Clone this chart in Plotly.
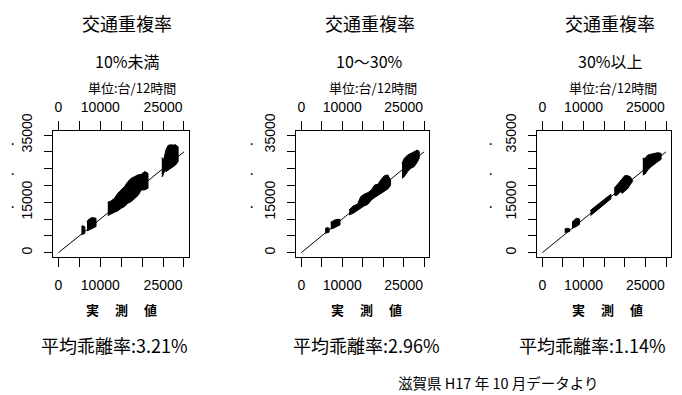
import plotly.graph_objects as go

W, H = 682, 395

# ---- data -------------------------------------------------------------
group_names = ["10%未満", "10～30%", "30%以上"]
mean_dev = ["3.21%", "2.96%", "1.14%"]

x_tickvals = [0, 5000, 10000, 15000, 20000, 25000, 30000]
x_ticktext = ["0", "", "10000", "", "", "25000", ""]
y_tickvals = [0, 5000, 10000, 15000, 20000, 25000, 30000, 35000]
y_ticktext = ["0", "", "", "15000", "", "", "", "35000"]

diag_x = [0, 30000]
diag_y = [0, 30000]

# point clouds: observed volume and the low / high estimates at that volume
low_c1_x = [5500, 5750, 6000, 6300]
low_c1_lo = [5300, 5400, 5500, 5700]
low_c1_hi = [7800, 8000, 7900, 7700]
low_c2_x = [6820, 7380, 7940, 8420, 8980]
low_c2_lo = [6460, 6860, 7160, 7450, 7750]
low_c2_hi = [9240, 10030, 10430, 10330, 10230]
low_c3_x = [11790, 12590, 13390, 14190, 14990, 15800, 16600, 17400, 18200, 19000, 19800, 20600, 21400]
low_c3_lo = [11020, 11420, 12010, 12410, 13200, 13700, 14690, 15190, 16180, 16980, 18660, 18660, 19150]
low_c3_hi = [14990, 15390, 16180, 17670, 18660, 19650, 21140, 22130, 22630, 23120, 23320, 24120, 23620]
low_c4_x = [24700, 24900, 25100, 25400, 25700, 26200, 26800, 27400, 28000, 28600]
low_c4_lo = [22600, 22700, 23000, 24500, 24100, 24600, 25100, 25600, 26100, 27100]
low_c4_hi = [28300, 28000, 27500, 29000, 30600, 31900, 32100, 32000, 32100, 31500]

mid_c1_x = [5820, 6300, 6780]
mid_c1_lo = [5770, 5900, 6100]
mid_c1_hi = [7200, 7440, 7300]
mid_c2_x = [7190, 7700, 8240, 8800, 9450]
mid_c2_lo = [7050, 7200, 7440, 7800, 8240]
mid_c2_hi = [9040, 9500, 9740, 9900, 9930]
mid_c3_x = [11700, 12670, 13720, 14530, 15330, 16300, 17110, 17920, 18720, 19530, 20340, 21150, 21790]
mid_c3_lo = [11210, 11710, 12400, 13200, 13890, 14390, 15680, 16380, 16970, 17670, 18360, 18960, 19950]
mid_c3_hi = [12700, 13890, 14390, 16670, 17370, 17860, 18650, 20140, 20340, 21830, 22920, 23120, 21630]
mid_c4_x = [24610, 25180, 25990, 26790, 27600, 28410, 28810]
mid_c4_lo = [22130, 22630, 24120, 25110, 25610, 27100, 28080]
mid_c4_hi = [26590, 28080, 29070, 29560, 30260, 30560, 30060]

high_c1_x = [5420, 6000, 6620]
high_c1_lo = [6070, 6100, 6300]
high_c1_hi = [7000, 7260, 7100]
high_c2_x = [7190, 8230, 9030]
high_c2_lo = [7260, 7750, 8440]
high_c2_hi = [9040, 10230, 10030]
high_c3_x = [11670, 13030, 14230, 15430, 16630]
high_c3_lo = [11000, 12400, 13500, 14800, 16000]
high_c3_hi = [12600, 13900, 15100, 16300, 17400]
high_c4_x = [17430, 17910, 18390, 18870, 19430, 19990, 20630, 21270, 21830]
high_c4_lo = [17170, 16970, 17370, 18160, 17670, 18360, 18960, 20150, 21140]
high_c4_hi = [19150, 19850, 20640, 21340, 22330, 22920, 22920, 22630, 21630]
high_c5_x = [24360, 24920, 25570, 26380, 27190, 27990, 28800]
high_c5_lo = [23100, 23400, 24590, 25580, 26370, 27070, 27760]
high_c5_hi = [28070, 28070, 29060, 29350, 29550, 29750, 29550]

clouds = [
    [(low_c1_x, low_c1_lo, low_c1_hi), (low_c2_x, low_c2_lo, low_c2_hi),
     (low_c3_x, low_c3_lo, low_c3_hi), (low_c4_x, low_c4_lo, low_c4_hi)],
    [(mid_c1_x, mid_c1_lo, mid_c1_hi), (mid_c2_x, mid_c2_lo, mid_c2_hi),
     (mid_c3_x, mid_c3_lo, mid_c3_hi), (mid_c4_x, mid_c4_lo, mid_c4_hi)],
    [(high_c1_x, high_c1_lo, high_c1_hi), (high_c2_x, high_c2_lo, high_c2_hi),
     (high_c3_x, high_c3_lo, high_c3_hi), (high_c4_x, high_c4_lo, high_c4_hi),
     (high_c5_x, high_c5_lo, high_c5_hi)],
]

# ---- layout geometry (pixels) -----------------------------------------
boxes = [(53, 189), (296, 429), (537, 671)]   # left / right of each plot box
box_top, box_bottom = 131, 257
title_dx = [6, 7, 6]
unit_dx = [11, 11, 9]
xlab_cx = [121, 366, 607]
dev_cx = [114, 366, 592]
dots_x = [12, 251, 490]
dots_y = [144, 173, 206]

JP = "Noto Sans CJK JP"
NUM = "Liberation Sans"


def px(x):
    return x / W


def py(y):
    return 1 - y / H


fig = go.Figure()
annotations = []
layout = {}


def note(text, x, y, size, family=JP):
    annotations.append(dict(
        text=text, x=px(x), y=py(y), xref="paper", yref="paper",
        xanchor="center", yanchor="middle", showarrow=False,
        font=dict(family=family, size=size, color="black")))


for i in range(3):
    n = i + 1
    xa, ya = f"x{n}", f"y{n}"
    xtop = f"x{n + 3}"
    l, r = boxes[i]
    cx = (l + r) / 2

    for cx_, lo, hi in clouds[i]:
        fig.add_trace(go.Scatter(
            x=list(cx_) + list(cx_)[::-1],
            y=list(hi) + list(lo)[::-1],
            mode="lines", fill="toself", fillcolor="black",
            line=dict(color="black", width=1),
            xaxis=xa, yaxis=ya, showlegend=False, hoverinfo="skip"))

    fig.add_trace(go.Scatter(
        x=diag_x, y=diag_y, mode="lines",
        line=dict(color="black", width=1),
        xaxis=xa, yaxis=ya, showlegend=False, hoverinfo="skip"))
    # empty trace that carries the top axis
    fig.add_trace(go.Scatter(
        x=[None], y=[None], xaxis=xtop, yaxis=ya,
        showlegend=False, hoverinfo="skip"))

    dom_x = [px(l), px(r)]
    dom_y = [py(box_bottom), py(box_top)]
    common_x = dict(
        domain=dom_x, range=[-1300, 31200], automargin=False,
        tickmode="array", tickvals=x_tickvals, ticktext=x_ticktext,
        ticks="outside", ticklen=9, tickwidth=1, tickcolor="black",
        tickfont=dict(family=NUM, size=14, color="black"),
        showgrid=False, zeroline=False, fixedrange=True)
    layout[f"xaxis{n}"] = dict(
        common_x, anchor=ya, side="bottom",
        showline=True, mirror=True, linecolor="black", linewidth=1,
        ticklabelstandoff=6)
    layout[f"xaxis{n + 3}"] = dict(
        common_x, anchor=ya, side="top", overlaying=xa,
        showline=False, ticklabelstandoff=3)
    layout[f"yaxis{n}"] = dict(
        domain=dom_y, range=[-1300, 36200], anchor=xa, automargin=False,
        tickmode="array", tickvals=y_tickvals, ticktext=y_ticktext,
        tickangle=-90,
        ticks="outside", ticklen=8, tickwidth=1, tickcolor="black",
        tickfont=dict(family=NUM, size=14, color="black"),
        showline=True, mirror=True, linecolor="black", linewidth=1,
        showgrid=False, zeroline=False, fixedrange=True,
        ticklabelstandoff=6)

    note("交通重複率", cx + title_dx[i], 23, 18)
    note(group_names[i], cx + title_dx[i], 61, 16)
    note("単位:台/12時間", cx + unit_dx[i], 87, 13)
    note("<b>実　 測　 値</b>", xlab_cx[i], 309, 13)
    note("平均乖離率:" + mean_dev[i], dev_cx[i], 345, 18)
    for dy in dots_y:
        note("·", dots_x[i], dy, 16, family=NUM)

note("滋賀県 H17 年 10 月データより", 498, 382, 14.5)

fig.update_layout(
    width=W, height=H, margin=dict(l=0, r=0, t=0, b=0, autoexpand=False),
    paper_bgcolor="white", plot_bgcolor="white",
    annotations=annotations, showlegend=False, **layout)

fig.write_html("out.html")
